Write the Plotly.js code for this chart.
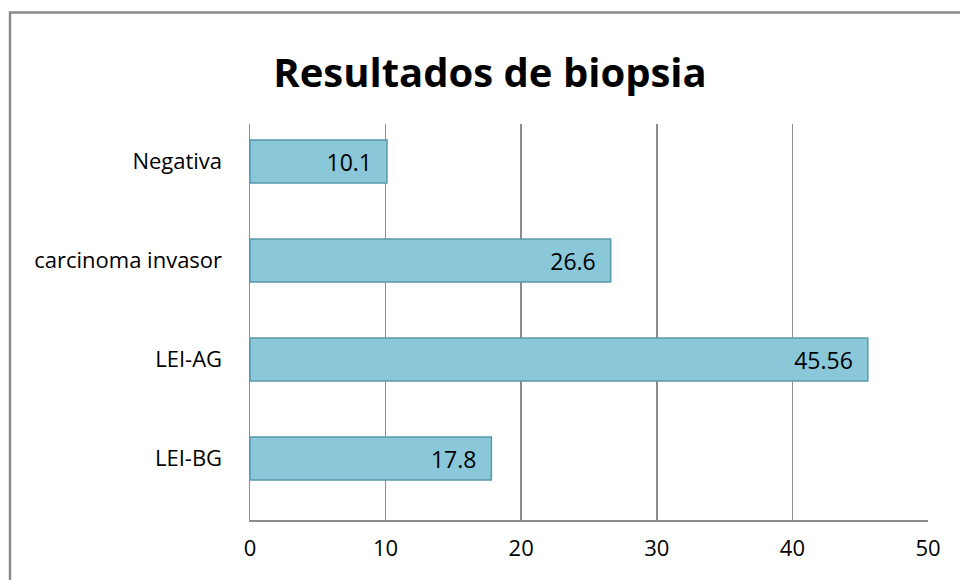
<!DOCTYPE html>
<html><head><meta charset="utf-8">
<script src="https://cdn.plot.ly/plotly-3.0.1.min.js"></script>
<style>html,body{margin:0;padding:0;background:#fff}</style>
</head><body>
<div id="chart" style="width:960px;height:580px"></div>
<script>
const categories = ["LEI-BG", "LEI-AG", "carcinoma invasor", "Negativa"];
const values = [17.8, 45.56, 26.6, 10.1];
const labels = ["17.8", "45.56", "26.6", "10.1"];
const xTicks = [0, 10, 20, 30, 40, 50];

const font = "'Open Sans', 'Noto Sans', sans-serif";

const trace = {
  type: "bar",
  orientation: "h",
  y: categories,
  x: values,
  text: labels,
  texttemplate: "%{text}\u00a0\u00a0",
  textposition: "inside",
  insidetextanchor: "end",
  textangle: 0,
  constraintext: "none",
  textfont: {family: font, size: 23, color: "#000"},
  marker: {color: "#8ac7d9", line: {color: "#5a98aa", width: 1.5}},
  hoverinfo: "none",
  cliponaxis: false
};

const layout = {
  width: 960, height: 580,
  margin: {l: 250, r: 32, t: 124, b: 60},
  paper_bgcolor: "#fff", plot_bgcolor: "#fff",
  showlegend: false,
  bargap: 0.566,
  title: {text: "<b>Resultados de biopsia</b>", x: 490/960, xanchor: "center", y: 1 - 73/580, yanchor: "middle",
          font: {family: font, size: 40, color: "#000"}},
  xaxis: {
    range: [0, 50], tickvals: xTicks, ticktext: xTicks.map(String),
    showgrid: true, gridcolor: "#8c8c8c", gridwidth: 1.5,
    showline: true, linecolor: "#8c8c8c", linewidth: 1.5,
    zeroline: false, ticks: "", ticklen: 0, ticklabelstandoff: 8,
    tickfont: {family: font, size: 22, color: "#000"}, fixedrange: true
  },
  yaxis: {
    categoryorder: "array", categoryarray: categories,
    range: [-0.621, 3.379],
    showgrid: false, showline: true, linecolor: "#8c8c8c", linewidth: 1.5,
    ticks: "", ticklen: 0, ticklabelstandoff: 22,
    tickfont: {family: font, size: 22, color: "#000"}, fixedrange: true
  },
  shapes: [{
    type: "rect", xref: "paper", yref: "paper",
    x0: (10 - 250) / 678, x1: 1.2, y0: -0.3, y1: (520 - 12.5) / 396,
    line: {color: "#8a8a8a", width: 2.5}, fillcolor: "rgba(0,0,0,0)", layer: "below"
  }]
};

Plotly.newPlot("chart", [trace], layout, {displayModeBar: false, staticPlot: true});
</script>
</body></html>
